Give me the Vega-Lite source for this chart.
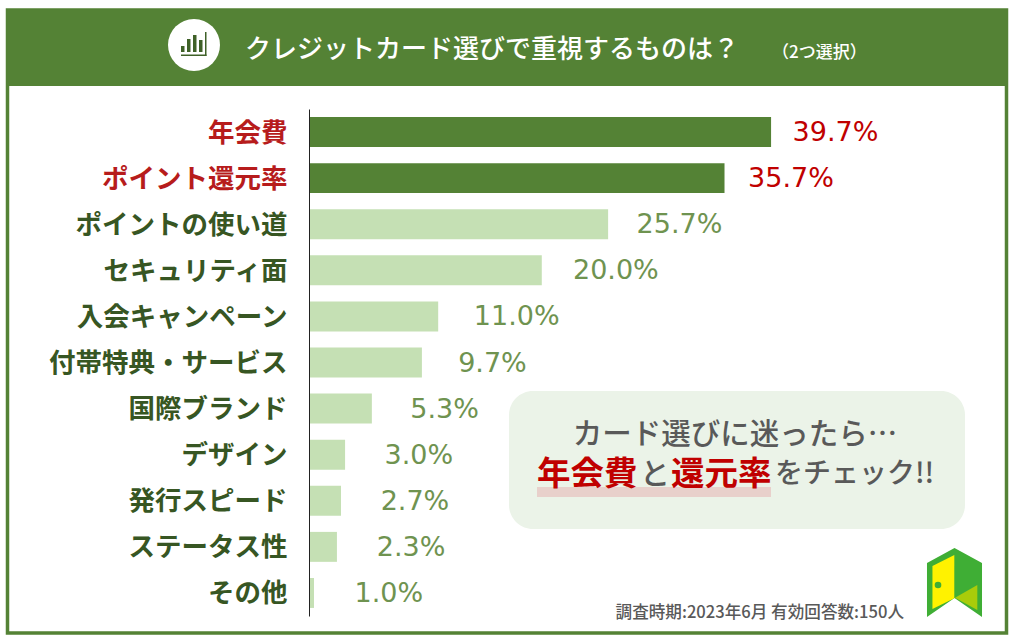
{
"$schema":"https://vega.github.io/schema/vega-lite/v6.json",
"width":1012,"height":640,"padding":0,"autosize":{"type":"none"},"background":"#ffffff",
"config":{"view":{"stroke":null},"font":"Noto Sans CJK JP"},
"title":{"text":"クレジットカード選びで重視するものは？","anchor":"start","frame":"group","dx":245,"offset":-84,"baseline":"alphabetic","font":"Noto Sans CJK JP","fontSize":26,"fontWeight":500,"color":"#ffffff","zindex":1},
"datasets":{"rows":[
{"item":"年会費","pct":39.7,"drawn":39.7,"label":"39.7%","focus":"high"},
{"item":"ポイント還元率","pct":35.7,"drawn":35.7,"label":"35.7%","focus":"high"},
{"item":"ポイントの使い道","pct":25.7,"drawn":25.7,"label":"25.7%","focus":"other"},
{"item":"セキュリティ面","pct":20.0,"drawn":20.0,"label":"20.0%","focus":"other"},
{"item":"入会キャンペーン","pct":11.0,"drawn":11.1,"label":"11.0%","focus":"other"},
{"item":"付帯特典・サービス","pct":9.7,"drawn":9.7,"label":"9.7%","focus":"other"},
{"item":"国際ブランド","pct":5.3,"drawn":5.4,"label":"5.3%","focus":"other"},
{"item":"デザイン","pct":3.0,"drawn":3.1,"label":"3.0%","focus":"other"},
{"item":"発行スピード","pct":2.7,"drawn":2.75,"label":"2.7%","focus":"other"},
{"item":"ステータス性","pct":2.3,"drawn":2.4,"label":"2.3%","focus":"other"},
{"item":"その他","pct":1.0,"drawn":0.43,"label":"1.0%","focus":"other"}
],"panel":[{"part":"frame"}]},
"layer":[
{"data":{"name":"panel"},"layer":[
{"mark":{"type":"rect","fill":"#ffffff","stroke":"#548235","strokeWidth":3.5},"encoding":{"x":{"datum":7.5,"type":"quantitative","scale":{"domain":[0,1012],"range":[0,1012],"nice":false,"zero":false},"axis":null},"x2":{"datum":1006.5},"y":{"datum":10,"type":"quantitative","scale":{"domain":[0,640],"range":[0,640],"nice":false,"zero":false},"axis":null},"y2":{"datum":633}}},
{"mark":{"type":"rect","fill":"#548235"},"encoding":{"x":{"datum":6,"type":"quantitative"},"x2":{"datum":1008},"y":{"datum":9,"type":"quantitative"},"y2":{"datum":86}}},
{"mark":{"type":"point","shape":"circle","filled":true,"fill":"#ffffff","size":2704,"opacity":1},"encoding":{"x":{"datum":194,"type":"quantitative"},"y":{"datum":45,"type":"quantitative"}}},
{"mark":{"type":"rect","fill":"#3f6128"},"encoding":{"x":{"datum":181,"type":"quantitative"},"x2":{"datum":184.5},"y":{"datum":46,"type":"quantitative"},"y2":{"datum":52}}},
{"mark":{"type":"rect","fill":"#3f6128"},"encoding":{"x":{"datum":187,"type":"quantitative"},"x2":{"datum":190.5},"y":{"datum":39,"type":"quantitative"},"y2":{"datum":52}}},
{"mark":{"type":"rect","fill":"#3f6128"},"encoding":{"x":{"datum":193,"type":"quantitative"},"x2":{"datum":196.5},"y":{"datum":35,"type":"quantitative"},"y2":{"datum":52}}},
{"mark":{"type":"rect","fill":"#3f6128"},"encoding":{"x":{"datum":199,"type":"quantitative"},"x2":{"datum":202.5},"y":{"datum":40,"type":"quantitative"},"y2":{"datum":52}}},
{"mark":{"type":"rect","fill":"#3f6128"},"encoding":{"x":{"datum":205,"type":"quantitative"},"x2":{"datum":206.5},"y":{"datum":32,"type":"quantitative"},"y2":{"datum":56}}},
{"mark":{"type":"rect","fill":"#3f6128"},"encoding":{"x":{"datum":181,"type":"quantitative"},"x2":{"datum":206.5},"y":{"datum":54.5,"type":"quantitative"},"y2":{"datum":56}}},
{"mark":{"type":"text","text":"（2つ選択）","align":"left","baseline":"middle","fontSize":17,"fontWeight":500,"fill":"#ffffff"},"encoding":{"x":{"datum":772,"type":"quantitative"},"y":{"datum":53,"type":"quantitative"}}},
{"mark":{"type":"rect","fill":"#ebf3e8","cornerRadius":24},"encoding":{"x":{"datum":509,"type":"quantitative"},"x2":{"datum":965},"y":{"datum":391,"type":"quantitative"},"y2":{"datum":529}}},
{"mark":{"type":"rect","fill":"#e8d0cb"},"encoding":{"x":{"datum":537,"type":"quantitative"},"x2":{"datum":771},"y":{"datum":487,"type":"quantitative"},"y2":{"datum":497}}},
{"mark":{"type":"text","text":"カード選びに迷ったら…","align":"center","baseline":"middle","fontSize":29.5,"fontWeight":500,"fill":"#595959"},"encoding":{"x":{"datum":735,"type":"quantitative"},"y":{"datum":434.5,"type":"quantitative"}}},
{"mark":{"type":"text","text":"年会費","align":"left","baseline":"middle","fontSize":33.5,"fontWeight":700,"fill":"#c00000"},"encoding":{"x":{"datum":537,"type":"quantitative"},"y":{"datum":475,"type":"quantitative"}}},
{"mark":{"type":"text","text":"と","align":"left","baseline":"middle","fontSize":30,"fontWeight":500,"fill":"#595959"},"encoding":{"x":{"datum":640,"type":"quantitative"},"y":{"datum":475,"type":"quantitative"}}},
{"mark":{"type":"text","text":"還元率","align":"left","baseline":"middle","fontSize":33.5,"fontWeight":700,"fill":"#c00000"},"encoding":{"x":{"datum":671,"type":"quantitative"},"y":{"datum":475,"type":"quantitative"}}},
{"mark":{"type":"text","text":"をチェック!!","align":"left","baseline":"middle","fontSize":28,"fontWeight":500,"fill":"#595959"},"encoding":{"x":{"datum":775,"type":"quantitative"},"y":{"datum":475,"type":"quantitative"}}},
{"mark":{"type":"text","text":"調査時期:2023年6月 有効回答数:150人","align":"right","baseline":"middle","fontSize":16.6,"fontWeight":500,"fill":"#595959"},"encoding":{"x":{"datum":904,"type":"quantitative"},"y":{"datum":613,"type":"quantitative"}}},
{"mark":{"type":"point","shape":"M-.786,-.571 L0,-1 L.786,-.571 L.786,.971 L0,.429 L-.786,.971 Z","filled":true,"fill":"#3fae35","size":4900,"opacity":1},"encoding":{"x":{"datum":954.5,"type":"quantitative"},"y":{"datum":583,"type":"quantitative"}}},
{"mark":{"type":"point","shape":"M-.63,-.486 L-.006,-.8 L-.006,.437 L-.63,.743 Z","filled":true,"fill":"#fff200","size":4900,"opacity":1},"encoding":{"x":{"datum":954.5,"type":"quantitative"},"y":{"datum":583,"type":"quantitative"}}},
{"mark":{"type":"point","shape":"M.014,.42 L.651,.057 L.651,.771 Z","filled":true,"fill":"#a9cc0a","size":4900,"opacity":1},"encoding":{"x":{"datum":954.5,"type":"quantitative"},"y":{"datum":583,"type":"quantitative"}}},
{"mark":{"type":"point","shape":"circle","filled":true,"fill":"#3fae35","size":44,"opacity":1},"encoding":{"x":{"datum":938,"type":"quantitative"},"y":{"datum":585,"type":"quantitative"}}}
]},
{"data":{"name":"rows"},
"encoding":{"y":{"field":"item","type":"nominal","sort":null,"scale":{"range":[109,616],"paddingInner":0.35,"paddingOuter":0.175},
"axis":{"orient":"left","zindex":1,"title":null,"offset":-309,"ticks":false,"labelPadding":22,"labelOffset":1.5,"labelFontSize":26.5,"labelFont":"Noto Sans CJK JP","labelFontWeight":700,"labelLimit":300,"labelColor":{"expr":"indexof(['年会費','ポイント還元率'],datum.value)>=0?'#b71c1c':'#375623'"},"domainColor":"#222222","domainWidth":1}},
"x":{"field":"drawn","type":"quantitative","scale":{"domain":[0,60.4],"range":[309,1012],"nice":false},"axis":null}},
"layer":[
{"mark":{"type":"bar","cornerRadius":0},"encoding":{"color":{"field":"focus","type":"nominal","scale":{"domain":["high","other"],"range":["#548235","#c5e0b4"]},"legend":null}}},
{"mark":{"type":"text","align":"left","baseline":"middle","font":"DejaVu Sans","fontSize":27,"dx":{"expr":"41-0.49*datum.pct"},"dy":1},"encoding":{"text":{"field":"label","type":"nominal"},"color":{"field":"focus","type":"nominal","scale":{"domain":["high","other"],"range":["#c00000","#6f9350"]},"legend":null}}}
],
"resolve":{"scale":{"color":"independent"}}
}
],
"resolve":{"scale":{"x":"independent","y":"independent"},"axis":{"x":"independent","y":"independent"}}
}
